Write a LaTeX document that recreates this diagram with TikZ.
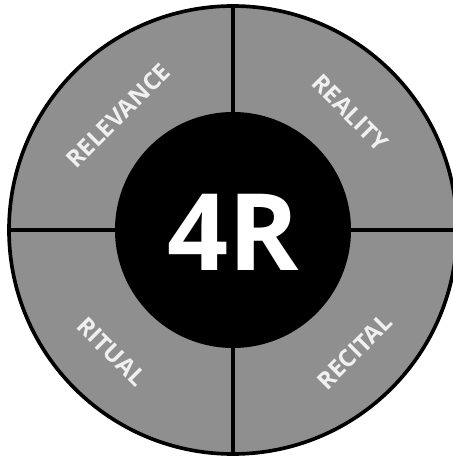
\documentclass[tikz,border=0pt]{standalone}
\usepackage{fontspec}
\setmainfont{Open Sans}

\definecolor{ringgray}{RGB}{143,143,143}
\definecolor{labelwhite}{RGB}{240,240,240}
\tikzset{
  quarter/.style={text=labelwhite, inner sep=0pt,
    font=\bfseries\fontsize{17}{20}\selectfont},
  divider/.style={line width=2.2pt}
}

\begin{document}
\begin{tikzpicture}
\useasboundingbox (-5.825,-5.7) rectangle (5.5,5.75);

% ring and core
\node[circle, draw, line width=2.6pt, fill=ringgray, minimum size=11.2cm, inner sep=0pt] (outer) at (0,0) {};
\node[circle, fill=black, minimum size=5.9cm, inner sep=0pt] (inner) at (0,0) {};

\draw[divider] (inner.north) -- (outer.north);
\draw[divider] (inner.south) -- (outer.south);
\draw[divider] (inner.east) -- (outer.east);
\draw[divider] (inner.west) -- (outer.west);

\node[text=white, font=\bfseries\fontsize{76}{84}\selectfont] (core) at (0,-0.05) {4R};

% the four quarters
\node[quarter, rotate=45] (relevance) at (135:4.05) {RELEVANCE};
\node[quarter, rotate=-45] (reality) at (45:4.15) {REALITY};
\node[quarter, rotate=-45] (ritual) at (225:4.3) {RITUAL};
\node[quarter, rotate=45] (recital) at (315:4.3) {RECITAL};

\end{tikzpicture}
\end{document}
